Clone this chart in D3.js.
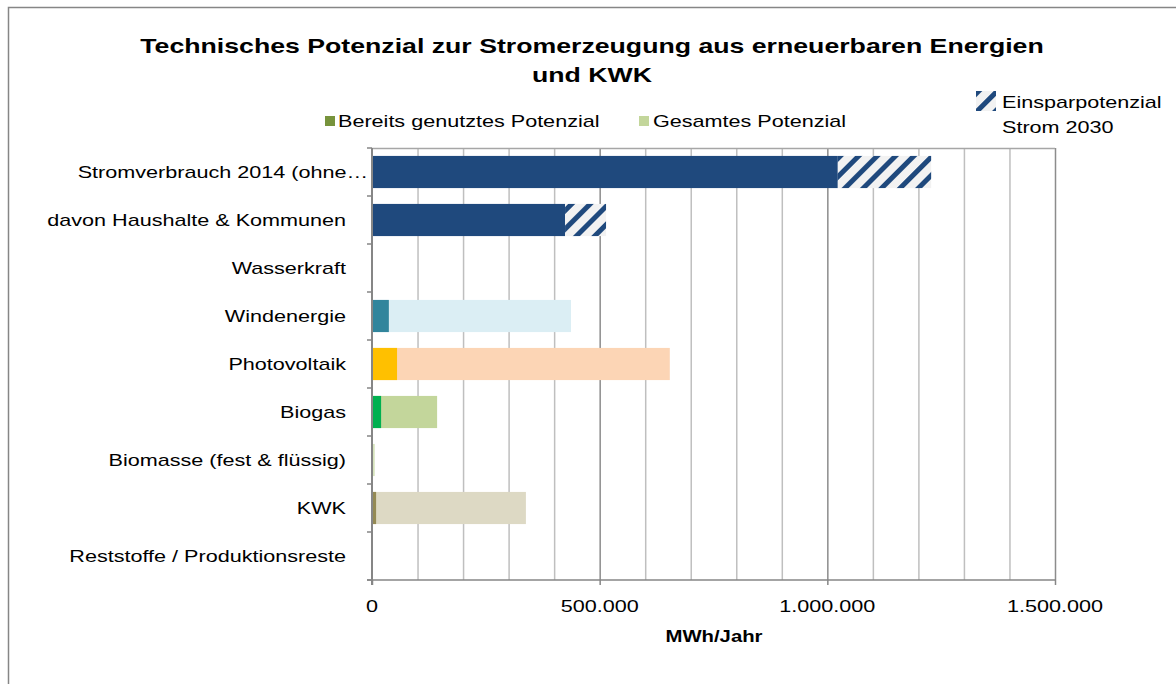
<!DOCTYPE html>
<html><head><meta charset="utf-8">
<script src="https://cdn.jsdelivr.net/npm/d3@7"></script>
<style>body{margin:0;background:#fff}svg{display:block}text{font-family:"Liberation Sans",Arial,sans-serif}</style>
</head><body>
<script>
const categories = ["Stromverbrauch 2014 (ohne…","davon Haushalte & Kommunen","Wasserkraft","Windenergie","Photovoltaik","Biogas","Biomasse (fest & flüssig)","KWK","Reststoffe / Produktionsreste"];
const usedValues  = [1023000, 424000, 0, 37000, 55000, 20000, 0, 9000, 0];
const totalValues = [0, 0, 0, 437000, 654000, 143000, 6000, 338000, 0];
const savingValues= [205000, 90000, 0, 0, 0, 0, 0, 0, 0];
const usedColors  = ["#1F497D","#1F497D","#1F497D","#31859C","#FFC000","#00B050","#C3D69B","#948A54","#777"];
const totalColors = ["#DBEEF4","#DBEEF4","#DBEEF4","#DBEEF4","#FCD5B5","#C3D69B","#D7E4BD","#DDD9C4","#ddd"];
const xTicks = [0, 500000, 1000000, 1500000];
const legendLabels = ["Bereits genutztes Potenzial","Gesamtes Potenzial","Einsparpotenzial","Strom 2030"];

const W=1176,H=684, SX=1.27;
const svg=d3.select("body").append("svg").attr("width",W).attr("height",H);
function txt(x,y,s,opts){
  const t=svg.append("text").attr("transform",`translate(${x},${y}) scale(${SX},1)`)
    .attr("font-size",opts.size||17).attr("fill","#000").text(s);
  if(opts.anchor) t.attr("text-anchor",opts.anchor);
  if(opts.bold) t.attr("font-weight","bold");
  if(opts.dy) t.attr("dy",opts.dy);
  return t;
}
const defs=svg.append("defs");
const pat=defs.append("pattern").attr("id","hatch").attr("patternUnits","userSpaceOnUse")
  .attr("width",13).attr("height",13).attr("patternTransform","rotate(45)");
pat.append("rect").attr("width",13).attr("height",13).attr("fill","#F2F2F2");
pat.append("rect").attr("x",0).attr("width",5).attr("height",13).attr("fill","#1F497D");

// outer border
svg.append("path").attr("d","M8.5,684 V7.5 H1176").attr("fill","none").attr("stroke","#868686").attr("stroke-width",1.5);

const x=d3.scaleLinear().domain([0,1500000]).range([372,1055]);
const y=d3.scaleBand().domain(categories).range([148,580]).paddingInner(0.33).paddingOuter(0.165);

// gridlines
const grid=d3.range(100000,1500001,100000);
svg.append("g").selectAll("line").data(grid).join("line")
  .attr("x1",d=>x(d)+0.5).attr("x2",d=>x(d)+0.5).attr("y1",148).attr("y2",580)
  .attr("stroke",d=>d%500000===0?"#8C8C8C":"#BFBFBF").attr("stroke-width",1.5);
svg.append("line").attr("x1",372).attr("x2",1055).attr("y1",148.5).attr("y2",148.5).attr("stroke","#A6A6A6").attr("stroke-width",1.5);

// bars
const g=svg.append("g");
categories.forEach((c,i)=>{
  if(totalValues[i]>0) g.append("rect").attr("x",x(0)).attr("y",y(c)).attr("height",y.bandwidth())
     .attr("width",x(totalValues[i])-x(0)).attr("fill",totalColors[i]);
  if(usedValues[i]>0) g.append("rect").attr("x",x(0)).attr("y",y(c)).attr("height",y.bandwidth())
     .attr("width",x(usedValues[i])-x(0)).attr("fill",usedColors[i]);
  if(savingValues[i]>0) g.append("rect").attr("x",x(usedValues[i])).attr("y",y(c)).attr("height",y.bandwidth())
     .attr("width",x(usedValues[i]+savingValues[i])-x(usedValues[i])).attr("fill","url(#hatch)");
});

// y axis
svg.append("line").attr("x1",372).attr("x2",372).attr("y1",148).attr("y2",585).attr("stroke","#868686").attr("stroke-width",2);
const step=y.step();
d3.range(0,categories.length+1).forEach(i=>{
  svg.append("line").attr("x1",367).attr("x2",372).attr("y1",148+i*step).attr("y2",148+i*step).attr("stroke","#868686").attr("stroke-width",1.5);
});
categories.forEach((c,i)=>{
  txt(i===0?368:346, y(c)+y.bandwidth()/2, c, {anchor:"end", dy:"0.36em"});
});

// x axis
svg.append("line").attr("x1",367).attr("x2",1056).attr("y1",580).attr("y2",580).attr("stroke","#868686").attr("stroke-width",1.5);
xTicks.forEach(t=>{
  svg.append("line").attr("x1",x(t)+0.5).attr("x2",x(t)+0.5).attr("y1",580).attr("y2",585).attr("stroke","#868686").attr("stroke-width",1.5);
  txt(x(t),612,d3.format(",")(t).replace(/,/g,"."),{anchor:"middle"});
});
txt(714,642,"MWh/Jahr",{anchor:"middle",bold:true,size:16});

// title
txt(592,53,"Technisches Potenzial zur Stromerzeugung aus erneuerbaren Energien",{anchor:"middle",bold:true,size:21});
txt(592,82,"und KWK",{anchor:"middle",bold:true,size:21});

// legend
svg.append("rect").attr("x",325).attr("y",116).attr("width",10).attr("height",10).attr("fill","#77933C");
txt(338,127,legendLabels[0],{});
svg.append("rect").attr("x",639).attr("y",116).attr("width",10).attr("height",10).attr("fill","#C3D69B");
txt(653,127,legendLabels[1],{});
svg.append("rect").attr("x",976).attr("y",91).attr("width",20).attr("height",20).attr("fill","url(#hatch)");
txt(1002,108,legendLabels[2],{});
txt(1002,133,legendLabels[3],{});
</script>
</body></html>
